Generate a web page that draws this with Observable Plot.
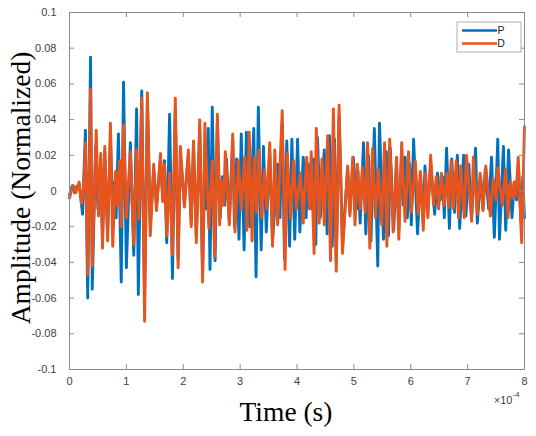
<!DOCTYPE html>
<html>
<head>
<meta charset="utf-8">
<script src="https://cdn.jsdelivr.net/npm/d3@7"></script>
<script src="https://cdn.jsdelivr.net/npm/@observablehq/plot@0.6"></script>
<style>
  body { margin: 0; background: #fff; }
  #chart { width: 536px; height: 436px; }
</style>
</head>
<body>
<div id="chart"></div>
<script>
// Signal P: time of each peak/trough (µs) and its normalized amplitude
const timeP = [
  0,5,9,12,17,23,28,32,37,40,
  46,50,55,58,62,67,72,76,79,82,
  86,91,95,100,107,113,118,121,127,132,
  137,142,148,153,160,164,167,171,176,181,
  186,191,195,202,209,214,218,223,229,234,
  238,241,244,247,251,256,260,265,269,273,
  276,281,287,290,294,298,302,307,311,317,
  324,328,332,337,341,346,352,357,366,370,
  374,378,382,387,391,396,401,405,411,416,
  420,425,429,433,436,441,448,453,457,462,
  466,469,474,480,489,493,499,505,507,511,
  517,521,526,530,536,542,545,552,557,561,
  564,570,575,579,584,587,590,594,598,601,
  605,612,617,622,625,630,635,642,647,652,
  656,659,663,668,672,677,682,686,693,697,
  702,707,714,717,723,727,731,737,742,747,
  753,756,763,767,772,778,782,786,789,794,
  797,800
];
const ampP = [
  -0.002,0.003,-0.001,0.002,0.004,-0.013,0.034,-0.060,0.075,-0.055,
  0.025,-0.010,0.018,-0.028,0.022,-0.025,0.030,-0.010,0.005,-0.015,
  0.032,-0.051,0.061,-0.043,0.027,-0.036,0.046,-0.058,0.056,-0.060,
  0.050,-0.020,0.012,-0.008,0.018,-0.005,0.017,-0.029,0.043,-0.049,
  0.045,-0.038,0.020,-0.007,0.020,-0.018,0.025,-0.025,0.035,-0.045,
  0.015,-0.010,0.035,-0.044,0.047,-0.039,0.038,-0.015,0.008,-0.008,
  0.018,-0.017,0.028,-0.020,0.018,-0.027,0.032,-0.033,0.033,-0.020,
  0.035,-0.048,0.047,-0.033,0.025,-0.023,0.022,-0.028,0.015,-0.015,
  0.038,-0.038,0.028,-0.031,0.029,-0.027,0.029,-0.023,0.019,-0.015,
  0.015,-0.010,0.018,-0.030,0.030,-0.015,0.023,-0.024,0.031,-0.031,
  0.029,-0.040,0.042,-0.030,0.012,-0.012,0.019,-0.010,0.012,-0.018,
  0.027,-0.024,0.020,-0.028,0.035,-0.042,0.038,-0.027,0.022,-0.025,
  0.024,-0.022,0.015,-0.022,0.023,-0.008,0.019,-0.015,0.015,-0.019,
  0.029,-0.024,0.010,-0.018,0.014,-0.012,0.016,-0.013,0.010,-0.005,
  0.008,-0.015,0.024,-0.021,0.018,-0.012,0.020,-0.021,0.020,-0.014,
  0.015,-0.015,0.024,-0.018,0.008,-0.010,0.012,-0.010,0.019,-0.026,
  0.029,-0.027,0.025,-0.022,0.023,-0.015,0.005,-0.005,0.015,-0.018,
  0.008,-0.015
];

// Signal D: time of each peak/trough (µs) and its normalized amplitude
const timeD = [
  0,4,7,11,14,17,21,25,28,32,
  37,40,47,51,55,58,62,67,72,76,
  81,84,88,91,95,100,107,113,118,122,
  127,132,137,142,148,153,160,164,167,171,
  176,181,186,191,195,202,209,214,218,223,
  229,234,238,245,251,255,260,264,267,271,
  274,281,287,291,297,302,308,312,316,321,
  325,329,333,338,343,347,352,357,361,366,
  374,379,383,389,394,399,406,411,417,422,
  425,430,434,439,444,448,454,459,464,469,
  474,480,489,493,498,502,506,511,515,520,
  524,528,533,538,543,549,554,558,563,569,
  575,579,584,590,596,601,608,613,617,622,
  626,630,635,640,645,649,654,659,664,667,
  671,675,680,684,688,694,698,707,710,717,
  722,727,732,740,745,750,753,761,767,771,
  775,779,782,785,789,795,800
];
const ampD = [
  -0.004,0.001,0.003,-0.001,0.002,0.005,-0.007,0.003,0.027,-0.047,
  0.057,-0.042,0.034,-0.014,0.021,-0.032,0.025,-0.028,0.038,-0.031,
  0.011,-0.008,0.017,-0.020,0.037,-0.015,0.022,-0.030,0.023,-0.016,
  0.052,-0.073,0.055,-0.025,0.015,-0.011,0.021,-0.006,0.015,-0.025,
  0.010,-0.036,0.052,-0.043,0.025,-0.009,0.023,-0.020,0.028,-0.029,
  0.040,-0.051,0.038,-0.021,0.017,-0.037,0.043,-0.019,0.006,-0.008,
  0.022,-0.019,0.032,-0.023,0.017,-0.010,0.019,-0.022,0.033,-0.028,
  0.019,-0.012,0.023,-0.015,0.012,-0.010,0.027,-0.031,0.023,-0.019,
  0.045,-0.044,0.021,-0.015,0.017,-0.010,0.010,-0.018,0.019,-0.010,
  0.022,-0.035,0.035,-0.018,0.018,-0.019,0.031,-0.039,0.046,-0.045,
  0.048,-0.035,0.014,-0.014,0.019,-0.019,0.015,-0.010,0.013,-0.012,
  0.027,-0.032,0.024,-0.015,0.012,-0.019,0.027,-0.031,0.029,-0.023,
  0.019,-0.027,0.027,-0.017,0.022,-0.012,0.017,-0.013,0.011,-0.022,
  0.010,-0.015,0.020,-0.008,0.008,-0.010,0.010,-0.008,0.010,-0.009,
  0.017,-0.010,0.017,-0.015,0.014,-0.015,0.020,-0.017,0.019,-0.013,
  0.010,-0.011,0.014,-0.014,0.007,-0.005,0.013,-0.008,0.012,-0.015,
  0.005,-0.004,0.005,-0.003,0.019,-0.029,0.036
];

// Axis ticks (time in µs, shown in units of 1e-4 s)
const xTicks = [0,100,200,300,400,500,600,700,800];
const xTickLabels = ["0","1","2","3","4","5","6","7","8"];
const yTicks = [-0.1,-0.08,-0.06,-0.04,-0.02,0,0.02,0.04,0.06,0.08,0.1];
const yTickLabels = ["-0.1","-0.08","-0.06","-0.04","-0.02","0","0.02","0.04","0.06","0.08","0.1"];

const seriesNames = ["P", "D"];
const seriesColors = ["#0072BD", "#E8541B"];

const rows = [
  ...timeP.map((t, i) => ({t, a: ampP[i], s: "P"})),
  ...timeD.map((t, i) => ({t, a: ampD[i], s: "D"}))
];

const W = 536, H = 436;
const mL = 69, mR = 12, mT = 12, mB = 67;
const fw = W - mL - mR, fh = H - mT - mB;
const axisGray = "#8a8a8a";
const labelGray = "#404040";
const sans = "'Liberation Sans', Arial, Helvetica, sans-serif";
const serif = "'Liberation Serif', 'Times New Roman', Times, serif";

const chart = Plot.plot({
  width: W,
  height: H,
  marginLeft: mL,
  marginRight: mR,
  marginTop: mT,
  marginBottom: mB,
  style: {fontFamily: sans, background: "#fff", overflow: "visible"},
  x: {domain: [0, 800]},
  y: {domain: [-0.1, 0.1]},
  color: {domain: seriesNames, range: seriesColors},
  marks: [
    // data
    Plot.line(rows, {x: "t", y: "a", z: "s", stroke: "s", strokeWidth: 2.9, strokeLinejoin: "round", strokeLinecap: "round"}),
    // box and inward ticks on all four sides
    Plot.frame({stroke: axisGray, strokeWidth: 1}),
    Plot.tickX(xTicks, {x: d => d, insetTop: fh - 5, stroke: axisGray}),
    Plot.tickX(xTicks, {x: d => d, insetBottom: fh - 5, stroke: axisGray}),
    Plot.tickY(yTicks, {y: d => d, insetRight: fw - 5, stroke: axisGray}),
    Plot.tickY(yTicks, {y: d => d, insetLeft: fw - 5, stroke: axisGray}),
    // tick labels
    Plot.axisX({ticks: xTicks, tickSize: 0, tickPadding: 8, label: null, fontSize: 11, fill: labelGray,
      tickFormat: d => xTickLabels[xTicks.indexOf(d)]}),
    Plot.axisY({ticks: yTicks, tickSize: 0, tickPadding: 13, label: null, fontSize: 11, fill: labelGray,
      tickFormat: d => yTickLabels[yTicks.indexOf(d)]}),
    // exponent of the time axis
    Plot.text(["×10"], {text: d => d, frameAnchor: "bottom-right", dx: -12, dy: 34, textAnchor: "end", fontSize: 11, fill: labelGray}),
    Plot.text(["-4"], {text: d => d, frameAnchor: "bottom-right", dx: -12, dy: 27, textAnchor: "start", fontSize: 8, fill: labelGray}),
    // axis titles
    Plot.text(["Time (s)"], {text: d => d, frameAnchor: "bottom", textAnchor: "middle", dx: -11, dy: 51, fontSize: 27.5, fontFamily: serif, fill: "#000"}),
    Plot.text(["Amplitude (Normalized)"], {text: d => d, frameAnchor: "left", textAnchor: "middle", dx: -48, dy: -3, rotate: -90, fontSize: 27.5, fontFamily: serif, fill: "#000"})
  ]
});

// Legend box in the upper-right corner of the axes
const svg = d3.select(chart);
const lg = svg.append("g").attr("font-family", sans).attr("font-size", 10.5);
const lx = W - mR - 67, ly = mT + 10;
lg.append("rect").attr("x", lx).attr("y", ly).attr("width", 64).attr("height", 30)
  .attr("fill", "#fff").attr("stroke", "#b0b0b0").attr("stroke-width", 1);
seriesNames.forEach((name, i) => {
  const yy = ly + 8.5 + i * 13;
  lg.append("line").attr("x1", lx + 5).attr("x2", lx + 40).attr("y1", yy).attr("y2", yy)
    .attr("stroke", seriesColors[i]).attr("stroke-width", 2.6);
  lg.append("text").attr("x", lx + 44).attr("y", yy + 3.8).attr("fill", "#222").text(name);
});

document.getElementById("chart").appendChild(chart);
</script>
</body>
</html>
